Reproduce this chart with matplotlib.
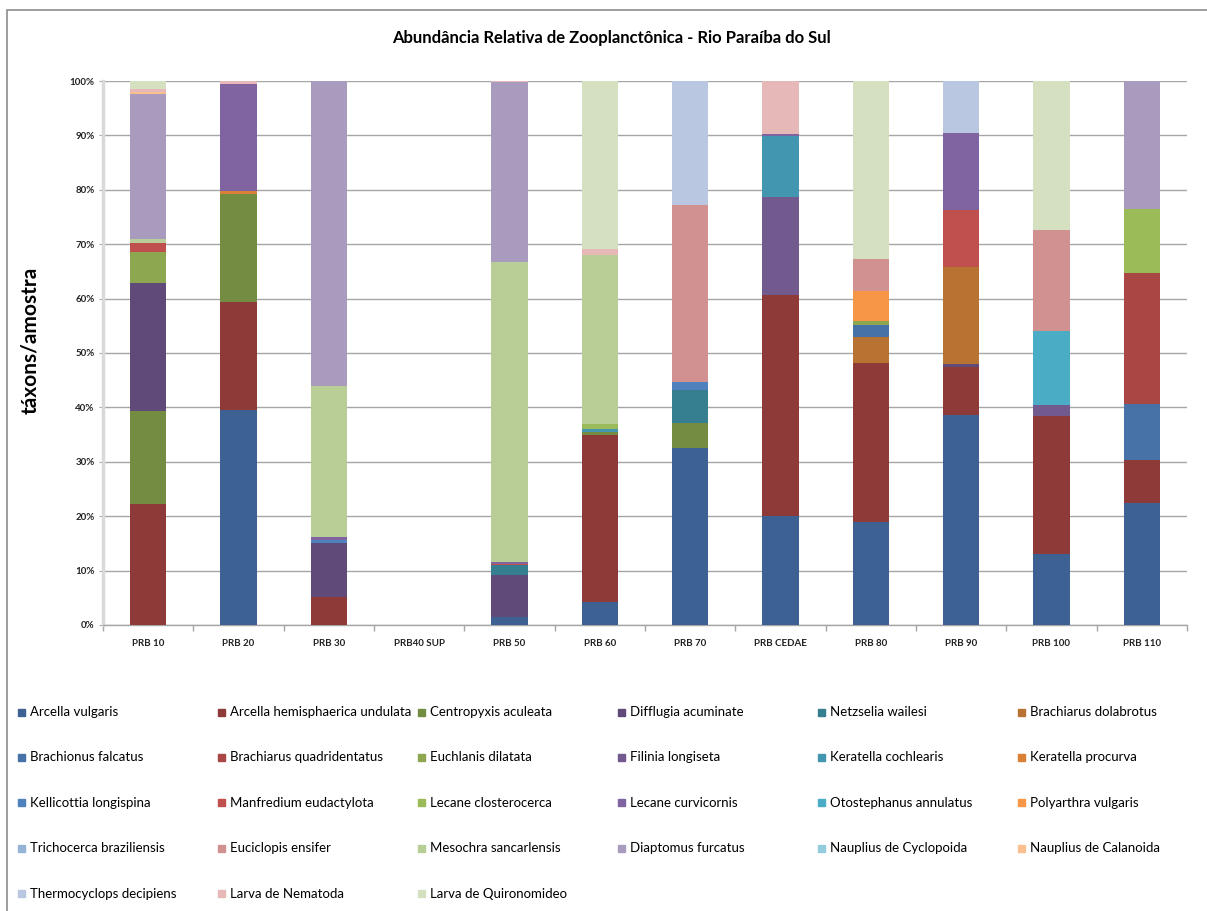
import numpy as np
import matplotlib
matplotlib.use("Agg")
import matplotlib.pyplot as plt
from matplotlib.patches import Rectangle

plt.rcParams['font.family'] = ['Lato', 'DejaVu Sans']

sites = ["PRB 10", "PRB 20", "PRB 30", "PRB40 SUP", "PRB 50", "PRB 60",
         "PRB 70", "PRB CEDAE", "PRB 80", "PRB 90", "PRB 100", "PRB 110"]

species = [
    "Arcella vulgaris", "Arcella hemisphaerica undulata", "Centropyxis aculeata",
    "Difflugia acuminate", "Netzselia wailesi", "Brachiarus dolabrotus",
    "Brachionus falcatus", "Brachiarus quadridentatus", "Euchlanis dilatata",
    "Filinia longiseta", "Keratella cochlearis", "Keratella procurva",
    "Kellicottia longispina", "Manfredium eudactylota", "Lecane closterocerca",
    "Lecane curvicornis", "Otostephanus annulatus", "Polyarthra vulgaris",
    "Trichocerca braziliensis", "Euciclopis ensifer", "Mesochra sancarlensis",
    "Diaptomus furcatus", "Nauplius de Cyclopoida", "Nauplius de Calanoida",
    "Thermocyclops decipiens", "Larva de Nematoda", "Larva de Quironomideo",
]

colors = ['#3C6192', '#8E3A38', '#748B42', '#5F4A7A', '#357F91', '#B87333',
          '#4672A8', '#A94744', '#8CA750', '#735A8E', '#4396B0', '#DA8137',
          '#4F81BD', '#C0504D', '#9BBB59', '#8064A2', '#4BACC6', '#F79646',
          '#95B3D7', '#D19190', '#B9CD96', '#A99BBD', '#93CDDD', '#FAC090',
          '#B9C7E0', '#E6B9B8', '#D4E0BF']

# % per species (same order as `species`) for each site
prb10 = [0, 22.2, 17.2, 23.5, 0, 0, 0, 0, 5.7,
         0, 0, 0, 0, 1.7, 0, 0, 0, 0,
         0, 0, 0.6, 26.8, 0, 0.3, 0, 0.5, 1.5]
prb20 = [39.5, 19.8, 19.9, 0, 0, 0, 0, 0, 0,
         0, 0, 0.5, 0, 0, 0, 19.7, 0, 0,
         0, 0, 0, 0, 0, 0, 0, 0.6, 0]
prb30 = [0, 5.1, 0, 10.0, 0, 0, 0, 0, 0,
         0, 0, 0, 0.6, 0, 0, 0.4, 0, 0,
         0, 0, 27.9, 56.0, 0, 0, 0, 0, 0]
prb40 = [0, 0, 0, 0, 0, 0, 0, 0, 0,
         0, 0, 0, 0, 0, 0, 0, 0, 0,
         0, 0, 0, 0, 0, 0, 0, 0, 0]
prb50 = [1.5, 0, 0, 7.7, 1.8, 0, 0, 0, 0,
         0, 0, 0, 0, 0.2, 0, 0.4, 0, 0,
         0, 0, 55.2, 33.0, 0, 0, 0, 0.2, 0]
prb60 = [4.2, 30.8, 0.5, 0, 0, 0, 0, 0, 0,
         0, 0.5, 0, 0, 0, 1.0, 0, 0, 0,
         0, 0, 31.0, 0, 0, 0, 0, 1.1, 30.9]
prb70 = [32.6, 0, 4.6, 0, 6.0, 0, 0, 0, 0,
         0, 0, 0, 1.4, 0, 0, 0, 0, 0,
         0, 32.6, 0, 0, 0, 0, 22.8, 0, 0]
cedae = [20.1, 40.6, 0, 0, 0, 0, 0, 0, 0,
         18.0, 11.1, 0, 0, 0, 0, 0.5, 0, 0,
         0, 0, 0, 0, 0, 0, 0, 9.7, 0]
prb80 = [18.9, 29.3, 0, 0, 0, 4.7, 2.2, 0, 0.8,
         0, 0, 0, 0, 0, 0, 0, 0, 5.5,
         0, 5.9, 0, 0, 0, 0, 0, 0, 32.7]
prb90 = [38.6, 8.8, 0, 0.5, 0, 18.0, 0, 0, 0,
         0, 0, 0, 0, 10.4, 0, 14.1, 0, 0,
         0, 0, 0, 0, 0, 0, 9.6, 0, 0]
prb100 = [13.1, 25.4, 0, 0, 0, 0, 0, 0, 0,
          2.0, 0, 0, 0, 0, 0, 0, 13.5, 0,
          0, 18.7, 0, 0, 0, 0, 0, 0, 27.3]
prb110 = [22.4, 8.0, 0, 0, 0, 0, 10.2, 24.1, 0,
          0, 0, 0, 0, 0, 11.7, 0, 0, 0,
          0, 0, 0, 23.6, 0, 0, 0, 0, 0]

site_values = [prb10, prb20, prb30, prb40, prb50, prb60,
               prb70, cedae, prb80, prb90, prb100, prb110]

W, H = 1207, 911
fig = plt.figure(figsize=(W / 100, H / 100), dpi=100)

# chart area border (left and top edges visible)
fig.patches.append(Rectangle((7 / W, -0.1), 1.2, 1.1 - 10 / H, transform=fig.transFigure,
                             fill=False, edgecolor='#8C8C8C', linewidth=1.2))

ax = fig.add_axes([103 / W, (H - 625) / H, 1084 / W, 544 / H])

data = np.array(site_values).T  # species x sites
x = np.arange(len(sites))
bottom = np.zeros(len(sites))
for i, name in enumerate(species):
    ax.bar(x, data[i] / 100.0, 0.4, bottom=bottom, color=colors[i],
           label=name, zorder=3, linewidth=0)
    bottom += data[i] / 100.0

ax.set_xlim(-0.5, len(sites) - 0.5)
ax.set_ylim(0, 1)
ax.set_yticks(np.arange(0, 1.01, 0.1))
ax.set_yticklabels([f"{int(round(v * 100))}%" for v in np.arange(0, 1.01, 0.1)],
                   fontsize=7, fontweight='bold', color='#222222')
ax.grid(axis='y', color='#A6A6A6', linewidth=1, zorder=0)

ax.set_xticks(x)
ax.set_xticklabels(sites, fontsize=7, fontweight='bold', color='#222222')
ax.set_xticks(np.arange(-0.5, len(sites)), minor=True)
ax.tick_params(axis='x', which='major', length=0, pad=10)
ax.tick_params(axis='x', which='minor', length=4, color='#A6A6A6', width=1)
ax.tick_params(axis='y', length=3, color='#A6A6A6', pad=3)

for s in ['top', 'right']:
    ax.spines[s].set_visible(False)
ax.spines['left'].set_color('#D9D9D9')
ax.spines['left'].set_linewidth(2.5)
ax.spines['bottom'].set_color('#A6A6A6')
ax.spines['bottom'].set_linewidth(1)

fig.text(611 / W, 1 - 38 / H, "Abundância Relativa de Zooplanctônica - Rio Paraíba do Sul",
         ha='center', va='center', fontsize=12, fontweight='bold')
fig.text(30 / W, 1 - 340 / H, "táxons/amostra", rotation=90, ha='center', va='center',
         fontsize=15, fontweight='bold')

# legend laid out row by row like the original
for i, name in enumerate(species):
    row, col = divmod(i, 6)
    mx = 18 + 200 * col
    my = 712 + 45.4 * row
    fig.patches.append(Rectangle((mx / W, 1 - (my + 3.5) / H), 7 / W, 7 / H,
                                 transform=fig.transFigure, color=colors[i]))
    fig.text((mx + 12) / W, 1 - my / H, name, ha='left', va='center', fontsize=9.5)

fig.savefig("out.png", dpi=100)
